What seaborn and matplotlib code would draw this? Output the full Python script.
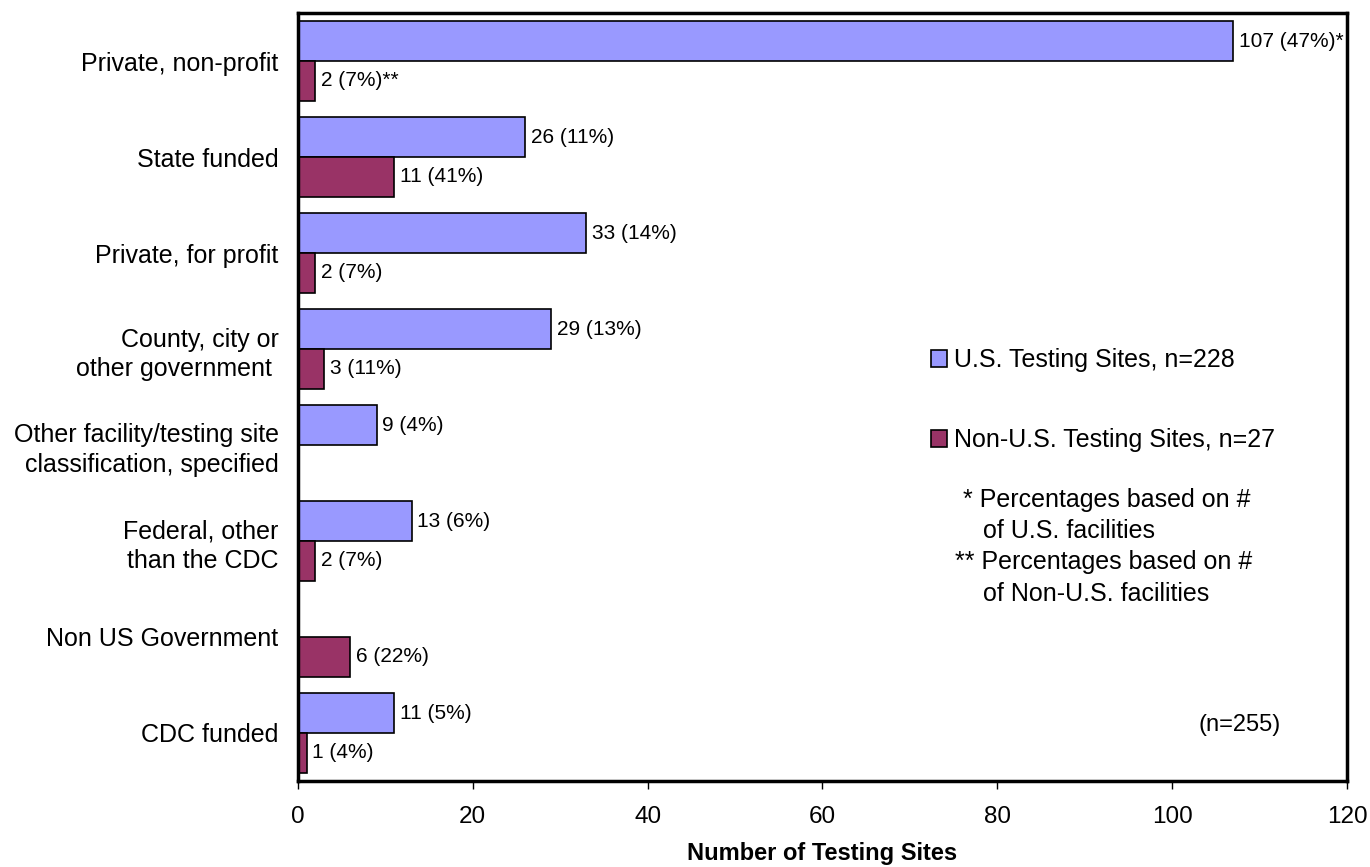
import seaborn as sns
import matplotlib.pyplot as plt
import pandas as pd

categories = ["Private, non-profit", "State funded", "Private, for profit",
              "County, city or\nother government ",
              "Other facility/testing site\nclassification, specified",
              "Federal, other\nthan the CDC", "Non US Government", "CDC funded"]
us_counts = [107, 26, 33, 29, 9, 13, 0, 11]
us_labels = ["107 (47%)*", "26 (11%)", "33 (14%)", "29 (13%)", "9 (4%)", "13 (6%)", "", "11 (5%)"]
non_us_counts = [2, 11, 2, 3, 0, 2, 6, 1]
non_us_labels = ["2 (7%)**", "11 (41%)", "2 (7%)", "3 (11%)", "", "2 (7%)", "6 (22%)", "1 (4%)"]
series = ["U.S. Testing Sites, n=228", "Non-U.S. Testing Sites, n=27"]
colors = ["#9999FF", "#993366"]

df = pd.DataFrame({
    "category": categories * 2,
    "count": us_counts + non_us_counts,
    "series": [series[0]] * len(categories) + [series[1]] * len(categories),
})

sns.set_style("white")
plt.rcParams['font.family'] = ['Liberation Sans', 'DejaVu Sans']
plt.rcParams.update({"text.color": "black", "axes.labelcolor": "black",
                     "xtick.color": "black", "ytick.color": "black"})

fig, ax = plt.subplots(figsize=(13.7, 8.67), dpi=100)
fig.subplots_adjust(left=0.2175, right=0.9832, top=0.985, bottom=0.0992)

sns.barplot(data=df, x="count", y="category", hue="series", order=categories,
            hue_order=series, palette=colors, saturation=1, width=0.83,
            edgecolor="black", linewidth=1.2, ax=ax, legend=True)

# Data labels next to each bar
for cont, labels in zip(ax.containers, [us_labels, non_us_labels]):
    ax.bar_label(cont, labels=labels, padding=4, fontsize=15, color="black")

ax.set_xlim(0, 120)
ax.set_ylim(7.5, -0.5)
ax.set_xticks(range(0, 121, 20))
ax.tick_params(axis="x", labelsize=17.5, bottom=True, direction="out",
               length=6, width=1, pad=12)
ax.tick_params(axis="y", labelsize=18, left=False, length=0, pad=14)
for lab in ax.get_yticklabels():
    lab.set_linespacing(1.3)
ax.set_ylabel("")
ax.set_xlabel("Number of Testing Sites", fontsize=17, fontweight="bold", labelpad=10)

for sp in ax.spines.values():
    sp.set_visible(True)
    sp.set_color("black")
    sp.set_linewidth(2.5)

ax.legend(loc="center left", bbox_to_anchor=(0.6035, 0.496), frameon=False,
          fontsize=18, labelspacing=2.25, handlelength=0.65, handleheight=0.65,
          handletextpad=0.28, borderaxespad=0, borderpad=0)

# Footnotes
note_kw = dict(transform=ax.transAxes, fontsize=18, va="center")
ax.text(0.634, 0.366, "* Percentages based on #", **note_kw)
ax.text(0.653, 0.325, "of U.S. facilities", **note_kw)
ax.text(0.626, 0.285, "** Percentages based on #", **note_kw)
ax.text(0.653, 0.244, "of Non-U.S. facilities", **note_kw)
ax.text(0.858, 0.073, "(n=255)", transform=ax.transAxes, fontsize=17, va="center")

fig.savefig("out.png", dpi=100)
